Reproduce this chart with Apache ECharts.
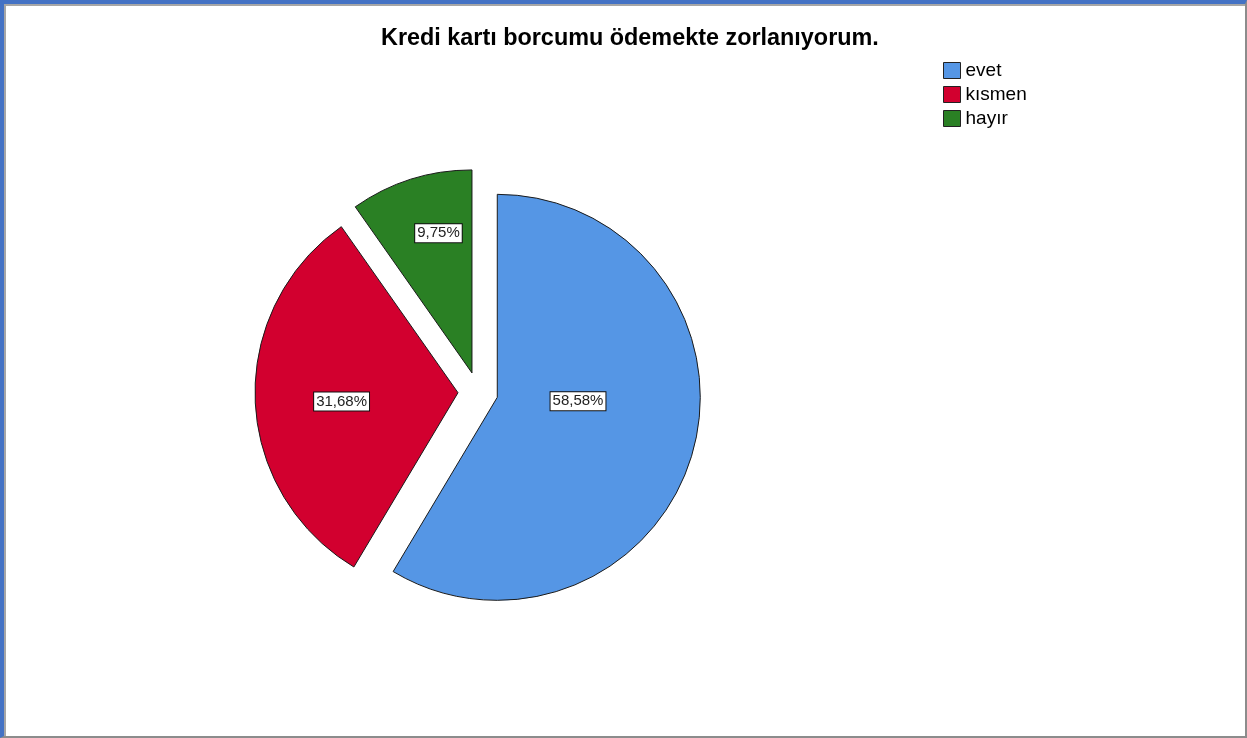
<!DOCTYPE html>
<html>
<head>
<meta charset="utf-8">
<title>Kredi kartı borcumu ödemekte zorlanıyorum.</title>
<script src="https://cdn.jsdelivr.net/npm/echarts@6/dist/echarts.min.js"></script>
<style>
  html, body { margin: 0; padding: 0; background: #fff; }
  #chart { position: absolute; left: 0; top: 0; width: 1247px; height: 738px; }
  /* SPSS output frame */
  #frame {
    position: absolute; left: 0; top: 0; width: 1247px; height: 738px;
    box-sizing: border-box; pointer-events: none;
    border-left: 4px solid #4472c4; border-top: 4px solid #4472c4;
    border-bottom: 2px solid #8c8c8c; border-right: 2px solid #8c8c8c;
    box-shadow: inset 2px 2px 0 #a6a6a6;
  }
</style>
</head>
<body>
<div id="chart"></div>
<div id="frame"></div>
<script>
// --- data ---
const categories = ['evet', 'kısmen', 'hayır']
const percents   = [58.58, 31.68, 9.75]
const colors     = ['#5596e5', '#d2002f', '#2a8024']

// label nudges (SPSS puts them a bit off the mid radius)
const labelDx = [-20, -12, -2]
const labelDy = [-24, 5, -40]

const chart = echarts.init(document.getElementById('chart'))

const pieData = categories.map((name, i) => ({
  name: name,
  value: percents[i],
  selected: true,
  itemStyle: { color: colors[i] }
}))

chart.setOption({
  animation: false,
  title: {
    text: 'Kredi kartı borcumu ödemekte zorlanıyorum.',
    left: 381,
    top: 27,
    padding: 0,
    textStyle: { fontFamily: 'Liberation Sans, Arial', fontSize: 23.4, fontWeight: 'bold', color: '#000' }
  },
  legend: {
    orient: 'vertical',
    left: 943,
    top: 61,
    padding: 0,
    icon: 'rect',
    itemWidth: 17,
    itemHeight: 16,
    itemGap: 5,
    selectedMode: false,
    data: categories,
    itemStyle: { borderColor: '#222', borderWidth: 1 },
    textStyle: { fontFamily: 'Liberation Sans, Arial', fontSize: 19, lineHeight: 16, color: '#000', padding: [0, 0, 0, 0] }
  },
  series: [{
    type: 'pie',
    center: [478, 392],
    radius: 203,
    startAngle: 90,
    clockwise: true,
    selectedMode: 'multiple',
    selectedOffset: 20,
    data: pieData,
    itemStyle: { borderColor: '#1a1a1a', borderWidth: 1 },
    emphasis: { disabled: true },
    select: { itemStyle: { borderColor: '#1a1a1a', borderWidth: 1 } },
    label: {
      show: true,
      position: 'inside',
      formatter: p => p.value.toFixed(2).replace('.', ',') + '%',
      fontFamily: 'Liberation Sans, Arial',
      fontSize: 15,
      color: '#222',
      backgroundColor: '#fff',
      borderColor: '#111',
      borderWidth: 1,
      padding: [2, 2, 1, 2]
    },
    labelLine: { show: false },
    labelLayout: p => ({ dx: labelDx[p.dataIndex], dy: labelDy[p.dataIndex] })
  }]
})
</script>
</body>
</html>
